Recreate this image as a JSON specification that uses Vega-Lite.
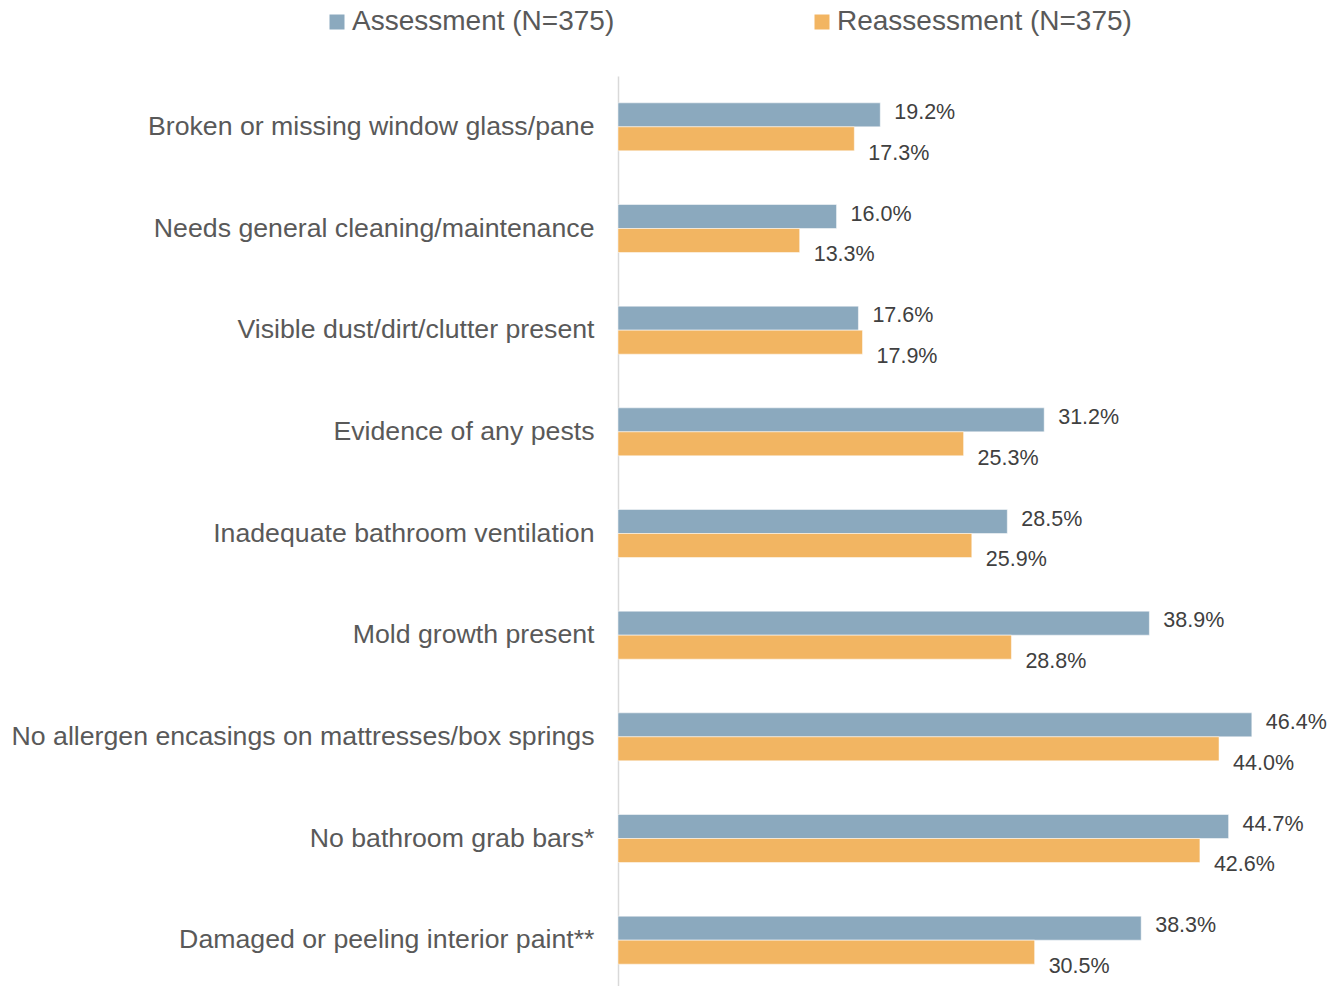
{
  "$schema": "https://vega.github.io/schema/vega-lite/v6.json",
  "autosize": {"type": "none"},
  "padding": {"left": 618, "top": 76, "right": 31, "bottom": 0},
  "width": 683,
  "height": 915,
  "background": "white",
  "config": {"view": {"stroke": null}, "font": "Liberation Sans"},
  "data": {"values": [
    {"item": "Broken or missing window glass/pane\u00a0", "series": "Assessment (N=375)", "value": 0.192},
    {"item": "Broken or missing window glass/pane\u00a0", "series": "Reassessment (N=375)", "value": 0.173},
    {"item": "Needs general cleaning/maintenance", "series": "Assessment (N=375)", "value": 0.160},
    {"item": "Needs general cleaning/maintenance", "series": "Reassessment (N=375)", "value": 0.133},
    {"item": "Visible dust/dirt/clutter present", "series": "Assessment (N=375)", "value": 0.176},
    {"item": "Visible dust/dirt/clutter present", "series": "Reassessment (N=375)", "value": 0.179},
    {"item": "Evidence of any pests\u00a0", "series": "Assessment (N=375)", "value": 0.312},
    {"item": "Evidence of any pests\u00a0", "series": "Reassessment (N=375)", "value": 0.253},
    {"item": "Inadequate bathroom ventilation", "series": "Assessment (N=375)", "value": 0.285},
    {"item": "Inadequate bathroom ventilation", "series": "Reassessment (N=375)", "value": 0.259},
    {"item": "Mold growth present", "series": "Assessment (N=375)", "value": 0.389},
    {"item": "Mold growth present", "series": "Reassessment (N=375)", "value": 0.288},
    {"item": "No allergen encasings on mattresses/box springs", "series": "Assessment (N=375)", "value": 0.464},
    {"item": "No allergen encasings on mattresses/box springs", "series": "Reassessment (N=375)", "value": 0.440},
    {"item": "No bathroom grab bars*", "series": "Assessment (N=375)", "value": 0.447},
    {"item": "No bathroom grab bars*", "series": "Reassessment (N=375)", "value": 0.426},
    {"item": "Damaged or peeling interior paint**", "series": "Assessment (N=375)", "value": 0.383},
    {"item": "Damaged or peeling interior paint**", "series": "Reassessment (N=375)", "value": 0.305}
  ]},
  "encoding": {
    "y": {
      "field": "item", "type": "nominal", "sort": null,
      "scale": {"paddingInner": 0.528, "paddingOuter": 0.264},
      "axis": {
        "title": null, "ticks": false, "domainColor": "#D9D9D9", "domainWidth": 1.5,
        "labelFontSize": 26.7, "labelColor": "#595959", "labelPadding": 24,
        "labelLimit": 700, "labelFont": "Liberation Sans"
      }
    },
    "yOffset": {
      "field": "series", "type": "nominal",
      "sort": ["Assessment (N=375)", "Reassessment (N=375)"],
      "scale": {"paddingInner": 0, "paddingOuter": 0}
    },
    "x": {
      "field": "value", "type": "quantitative",
      "scale": {"domain": [0, 0.5], "nice": false},
      "axis": null
    }
  },
  "layer": [
    {
      "mark": {"type": "bar", "stroke": "white", "strokeWidth": 0.5},
      "encoding": {
        "color": {
          "field": "series", "type": "nominal",
          "scale": {"domain": ["Assessment (N=375)", "Reassessment (N=375)"], "range": ["#8BA9BE", "#F2B562"]},
          "legend": {
            "title": null, "orient": "none", "direction": "horizontal",
            "legendX": -295, "legendY": -68,
            "symbolType": "square", "symbolSize": 225, "symbolStrokeWidth": 0,
            "labelFontSize": 28, "labelColor": "#595959", "labelFont": "Liberation Sans",
            "labelOffset": 1, "columnPadding": 193, "labelLimit": 400
          }
        }
      }
    },
    {
      "transform": [{"filter": "datum.series === 'Assessment (N=375)'"}],
      "mark": {"type": "text", "align": "left", "baseline": "middle", "dx": 14, "dy": -2, "fontSize": 21.5, "color": "#404040", "font": "Liberation Sans"},
      "encoding": {"text": {"field": "value", "type": "quantitative", "format": ".1%"}}
    },
    {
      "transform": [{"filter": "datum.series === 'Reassessment (N=375)'"}],
      "mark": {"type": "text", "align": "left", "baseline": "middle", "dx": 14, "dy": 15, "fontSize": 21.5, "color": "#404040", "font": "Liberation Sans"},
      "encoding": {"text": {"field": "value", "type": "quantitative", "format": ".1%"}}
    }
  ]
}
